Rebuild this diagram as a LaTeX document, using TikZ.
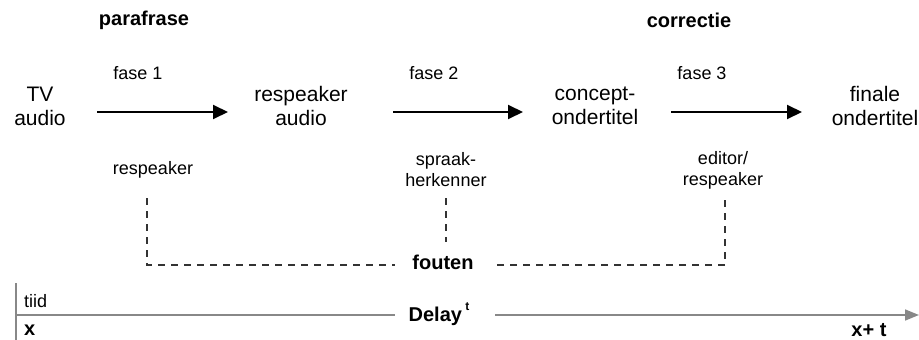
\documentclass[tikz,border=0pt]{standalone}
\usepackage{fontspec}
\setmainfont{Liberation Sans}
\usetikzlibrary{arrows.meta}
\definecolor{axisgray}{HTML}{888888}
\definecolor{dashgray}{HTML}{333333}
\tikzset{
  stage/.style={align=center, font=\fontsize{21}{24}\selectfont, inner sep=0pt},
  phase/.style={font=\fontsize{18}{21}\selectfont, inner sep=0pt},
  actor/.style={align=center, font=\fontsize{18}{21}\selectfont, inner sep=0pt},
  heading/.style={font=\bfseries\fontsize{20}{24}\selectfont, inner sep=0pt},
  flow/.style={line width=2pt, -{Triangle[length=15pt,width=14pt]}},
  errline/.style={dashgray, line width=1.3pt, dash pattern=on 7pt off 6pt},
  axis/.style={axisgray, line width=1.6pt},
}
\begin{document}
\begin{tikzpicture}[x=1pt, y=-1pt]
\useasboundingbox (0,0) rectangle (919,340);

% headings
\node[heading] (para) at (144,20) {parafrase};
\node[heading] (corr) at (689,20) {correctie};

% stages of the chain
\node[stage] (tv)   at (40,106)  {TV\\audio};
\node[stage] (resp) at (301,106) {respeaker\\audio};
\node[stage] (conc) at (595,106) {concept-\\ondertitel};
\node[stage] (fin)  at (875,106) {finale\\ondertitel};

% flow arrows
\coordinate (a1s) at (97,112);  \coordinate (a1e) at (228,112);
\coordinate (a2s) at (393,112); \coordinate (a2e) at (523,112);
\coordinate (a3s) at (671,112); \coordinate (a3e) at (802,112);
\draw[flow] (a1s) -- (a1e);
\draw[flow] (a2s) -- (a2e);
\draw[flow] (a3s) -- (a3e);

% phase labels
\node[phase] (f1) at (138,73) {fase 1};
\node[phase] (f2) at (434,73) {fase 2};
\node[phase] (f3) at (702,73) {fase 3};

% who does what
\node[actor] (act1) at (153,170) {respeaker};
\node[actor] (act2) at (446,170) {spraak-\\herkenner};
\node[actor] (act3) at (723,170) {editor/\\respeaker};

% errors collected from each phase
\node[heading] (err) at (443,262) {fouten};
\coordinate (e1t) at (147,198);
\coordinate (e1c) at (147,265);
\coordinate (e1e) at (395,265);
\coordinate (e2t) at (446,198);
\coordinate (e2b) at (446,242);
\coordinate (e3t) at (725,200);
\coordinate (e3c) at (725,265);
\coordinate (e3e) at (495,265);
\draw[errline] (e1t) -- (e1c) -- (e1e);
\draw[errline] (e2t) -- (e2b);
\draw[errline] (e3t) -- (e3c) -- (e3e);

% time axis
\node[heading] (delay) at (439,314) {Delay\,\raisebox{1.1ex}{\fontsize{12}{12}\selectfont t}};
\node[phase, anchor=west] (tiid) at (24,301) {tiid};
\node[heading, anchor=west] (x0) at (24,330) {x};
\node[heading] (x1) at (869,330) {x+ t};
\coordinate (vtop) at (16,283);
\coordinate (vbot) at (16,340);
\coordinate (hstart) at (16,315);
\coordinate (hmid1) at (395,315);
\coordinate (hmid2) at (495,315);
\coordinate (hend) at (919,315);
\draw[axis] (vtop) -- (vbot);
\draw[axis] (hstart) -- (hmid1);
\draw[axis, -{Triangle[length=14pt,width=11pt]}] (hmid2) -- (hend);
\end{tikzpicture}
\end{document}
